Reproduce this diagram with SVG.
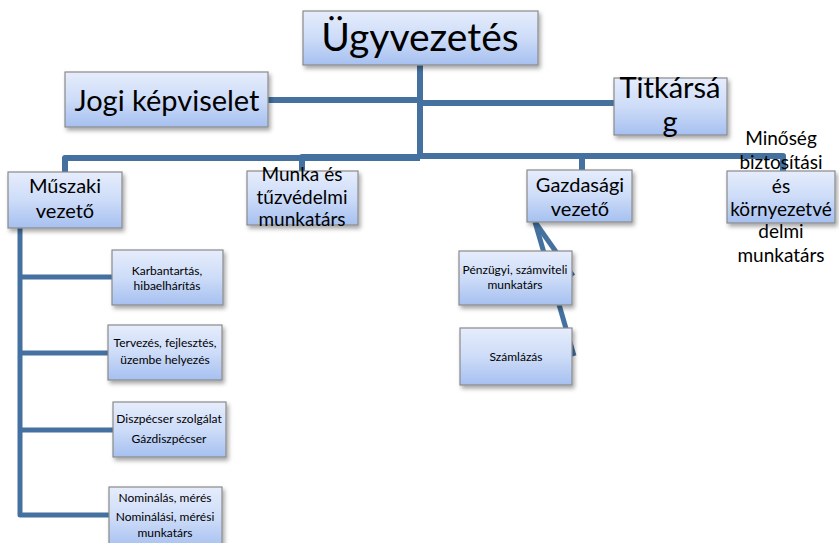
<svg xmlns="http://www.w3.org/2000/svg" width="839" height="543" viewBox="0 0 839 543">
<defs>
<linearGradient id="g" x1="0" y1="0" x2="0" y2="1">
<stop offset="0" stop-color="#e6edfc"/>
<stop offset="0.5" stop-color="#cddcf8"/>
<stop offset="1" stop-color="#a6c0f0"/>
</linearGradient>
<filter id="sh" x="-10%" y="-10%" width="130%" height="140%">
<feDropShadow dx="2" dy="3" stdDeviation="2" flood-color="#000" flood-opacity="0.35"/>
</filter>
<style>
.box{fill:url(#g);stroke:#8a8a8a;stroke-width:1.2;filter:url(#sh)}
.c{fill:none;stroke:#44719f;stroke-width:6;stroke-linejoin:round}
.cs{fill:none;stroke:#44719f;stroke-width:5;stroke-linejoin:round}
text{font-family:Lato,"Open Sans","Liberation Sans",sans-serif;fill:#000;text-anchor:middle}
.s{font-size:12px}
</style>
</defs>
<rect width="839" height="543" fill="#fff"/>
<g id="connectors">
<path class="c" d="M420,62 V157"/>
<path class="c" d="M268,100 H420"/>
<path class="c" d="M420,103 H614"/>
<path class="c" d="M420,158 H65 V174"/>
<path class="c" d="M420,157 H302 V173"/>
<path class="c" d="M420,156 H582 V172"/>
<path class="c" d="M420,156 H783 V173"/>
<path class="cs" d="M20,226 V515 H111"/>
<path class="cs" d="M20,277 H114"/>
<path class="cs" d="M20,353 H110"/>
<path class="cs" d="M20,430 H115"/>
<path class="cs" d="M535,222 L573,276"/>
<path class="cs" d="M535,222 L574,356"/>
</g>
<g id="n-ugyvezetes">
<rect class="box" x="303" y="11" width="235" height="54"/>
<text x="420" y="51" font-size="39">Ügyvezetés</text>
</g>
<g id="n-jogi">
<rect class="box" x="65" y="72" width="203" height="55"/>
<text x="167" y="111" font-size="29">Jogi képviselet</text>
</g>
<g id="n-titkarsag">
<rect class="box" x="614" y="78" width="113" height="57"/>
<text x="670" y="98" font-size="29">Titkársá</text>
<text x="670" y="132" font-size="29">g</text>
</g>
<g id="n-muszaki">
<rect class="box" x="8" y="172" width="114" height="56"/>
<text x="65" y="193" font-size="20">Műszaki</text>
<text x="65" y="218" font-size="20">vezető</text>
</g>
<g id="n-munka">
<rect class="box" x="247" y="171" width="111" height="54"/>
<text x="302" y="181" font-size="19">Munka és</text>
<text x="302" y="204" font-size="19">tűzvédelmi</text>
<text x="302" y="226" font-size="19">munkatárs</text>
</g>
<g id="n-gazdasagi">
<rect class="box" x="527" y="170" width="105" height="52"/>
<text x="580" y="192" font-size="20">Gazdasági</text>
<text x="580" y="216" font-size="20">vezető</text>
</g>
<g id="n-minoseg">
<rect class="box" x="727" y="171" width="108" height="52"/>
<text x="781" y="145" font-size="19">Minőség</text>
<text x="781" y="169" font-size="19">biztosítási</text>
<text x="781" y="193" font-size="19">és</text>
<text x="781" y="216" font-size="19">környezetvé</text>
<text x="781" y="238" font-size="19">delmi</text>
<text x="781" y="262" font-size="19">munkatárs</text>
</g>
<g id="n-karbantartas">
<rect class="box" x="112" y="250" width="111" height="55"/>
<text class="s" x="167" y="275">Karbantartás,</text>
<text class="s" x="167" y="290">hibaelhárítás</text>
</g>
<g id="n-tervezes">
<rect class="box" x="108" y="325" width="114" height="55"/>
<text class="s" x="165" y="347">Tervezés, fejlesztés,</text>
<text class="s" x="165" y="364">üzembe helyezés</text>
</g>
<g id="n-diszpecser">
<rect class="box" x="113" y="402" width="113" height="55"/>
<text class="s" x="169" y="423">Diszpécser szolgálat</text>
<text class="s" x="169" y="443">Gázdiszpécser</text>
</g>
<g id="n-nominalas">
<rect class="box" x="109" y="487" width="113" height="62"/>
<text class="s" x="165" y="502">Nominálás, mérés</text>
<text class="s" x="165" y="521">Nominálási, mérési</text>
<text class="s" x="165" y="537">munkatárs</text>
</g>
<g id="n-penzugyi">
<rect class="box" x="459" y="251" width="113" height="54"/>
<text class="s" x="515" y="274">Pénzügyi, számviteli</text>
<text class="s" x="515" y="289">munkatárs</text>
</g>
<g id="n-szamlazas">
<rect class="box" x="460" y="328" width="112" height="57"/>
<text class="s" x="516" y="361">Számlázás</text>
</g>
</svg>
